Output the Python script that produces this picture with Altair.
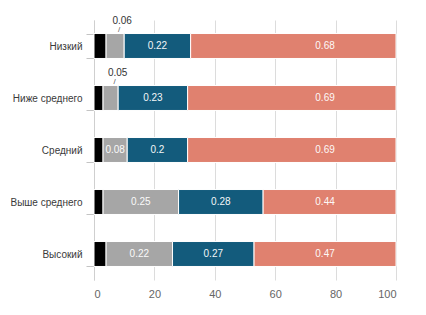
import altair as alt
import pandas as pd

categories = ["Низкий", "Ниже среднего", "Средний", "Выше среднего", "Высокий"]
series_names = ["Группа 1", "Группа 2", "Группа 3", "Группа 4"]
s1 = [0.04, 0.03, 0.03, 0.03, 0.04]
s2 = [0.06, 0.05, 0.08, 0.25, 0.22]
s3 = [0.22, 0.23, 0.20, 0.28, 0.27]
s4 = [0.68, 0.69, 0.69, 0.44, 0.47]
colors = ["#000000", "#a6a6a6", "#135b7c", "#e0816f"]
x_ticks = [0, 20, 40, 60, 80, 100]
last_label_anchor = 76.5  # where the last segment's labels sit in the reference

series_values = [s1, s2, s3, s4]
rows = []
for ci, cat in enumerate(categories):
    start = 0.0
    for si, name in enumerate(series_names):
        v = series_values[si][ci]
        pct = v * 100
        end = start + pct
        mid = (start + end) / 2
        lx = last_label_anchor if si == len(series_names) - 1 else mid
        if si == 0:
            place = "none"
        elif v < 0.07:
            place = "outside"
        else:
            place = "inside"
        rows.append(dict(category=cat, series=name, order=si, value=v,
                         start=start, end=end, mid=mid, lx=lx,
                         label=f"{v:g}", place=place))
        start = end
df = pd.DataFrame(rows)

FONT = "Liberation Sans"
y_enc = alt.Y("category:N", sort=categories, title=None,
              scale=alt.Scale(paddingInner=0.52, paddingOuter=0.26))

base = alt.Chart(df)

bars = base.mark_bar(stroke="white", strokeWidth=1).encode(
    x=alt.X("start:Q", title=None,
            scale=alt.Scale(domain=[0, 100], nice=False),
            axis=alt.Axis(values=x_ticks)),
    x2="end:Q",
    y=y_enc,
    color=alt.Color("series:N", sort=series_names,
                    scale=alt.Scale(domain=series_names, range=colors),
                    legend=None),
)

inside = base.transform_filter(alt.datum.place == "inside").mark_text(
    color="white", fontSize=10, font=FONT, opacity=0.95
).encode(x="lx:Q", y=y_enc, text="label:N")

outside = base.transform_filter(alt.datum.place == "outside").mark_text(
    color="#333333", fontSize=10, font=FONT, dx=7, dy=-25
).encode(x="mid:Q", y=y_enc, text="label:N")

leader = base.transform_filter(alt.datum.place == "outside").mark_text(
    color="#555555", fontSize=8, font=FONT, dx=4, dy=-16, text="/"
).encode(x="mid:Q", y=y_enc)

chart = alt.layer(bars, inside, outside, leader).properties(
    width=302, height=260,
    background="white",
    autosize=alt.AutoSizeParams(type="none"),
    padding={"left": 94, "top": 20, "right": 30, "bottom": 35},
).configure_view(stroke=None).configure_axisY(
    domainColor="#cfcfcf", tickColor="#c4c4c4", tickSize=8, tickWidth=1,
    tickBand="extent", labelPadding=4, labelColor="#3a3a3a",
    labelFontSize=10, labelFont=FONT, grid=False,
).configure_axisX(
    grid=True, gridColor="#dcdcdc", domain=False, ticks=False,
    labelPadding=8, labelColor="#666666", labelFontSize=11, labelFont=FONT,
)

chart.save("out.html", embed_options={"renderer": "svg", "actions": False})
